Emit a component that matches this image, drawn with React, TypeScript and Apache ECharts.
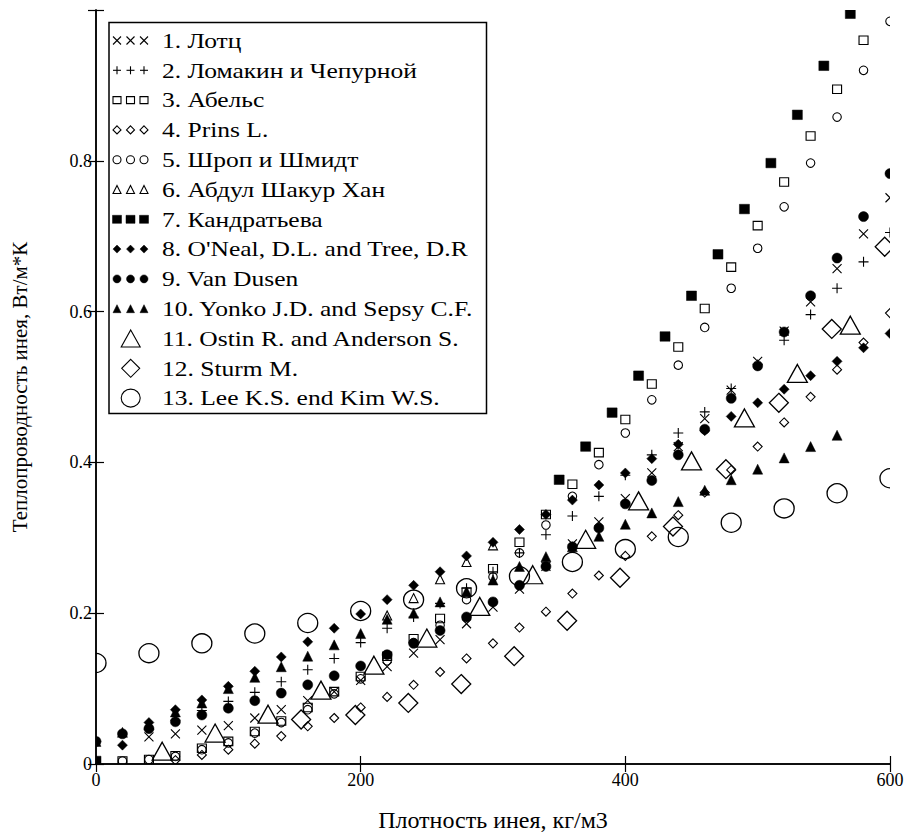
import React, { useEffect, useRef } from 'react';
import * as echarts from 'echarts';

const FONT = '"Liberation Serif", "Times New Roman", serif';

// ---- data (x: плотность, y: теплопроводность) ----
const lotzX = [40, 60, 80, 100, 120, 140, 160, 180, 200, 220, 240, 260, 280, 300, 320, 340, 360, 380, 400, 420, 440, 460, 480, 500, 520, 540, 560, 580, 600];
const lotzY = [0.036, 0.040, 0.045, 0.051, 0.061, 0.072, 0.084, 0.096, 0.111, 0.129, 0.147, 0.165, 0.186, 0.208, 0.232, 0.262, 0.292, 0.321, 0.352, 0.386, 0.421, 0.458, 0.496, 0.534, 0.574, 0.613, 0.657, 0.703, 0.751];

const lomX = [40, 60, 80, 100, 120, 140, 160, 180, 200, 220, 240, 260, 280, 300, 320, 340, 360, 380, 400, 420, 440, 460, 480, 500, 520, 540, 560, 580, 600];
const lomY = [0.047, 0.058, 0.071, 0.083, 0.095, 0.109, 0.125, 0.140, 0.161, 0.180, 0.195, 0.213, 0.233, 0.255, 0.280, 0.304, 0.329, 0.355, 0.383, 0.410, 0.439, 0.467, 0.498, 0.530, 0.562, 0.596, 0.631, 0.666, 0.705];

const abelsX = [20, 40, 60, 80, 100, 120, 140, 160, 180, 200, 220, 240, 260, 280, 300, 320, 340, 360, 380, 400, 420, 440, 460, 480, 500, 520, 540, 560, 580];
const abelsY = [0.004, 0.006, 0.011, 0.021, 0.030, 0.043, 0.057, 0.075, 0.096, 0.116, 0.143, 0.166, 0.193, 0.228, 0.259, 0.294, 0.331, 0.371, 0.413, 0.457, 0.504, 0.553, 0.604, 0.659, 0.714, 0.772, 0.833, 0.895, 0.960];

const prinsX = [60, 80, 100, 120, 140, 160, 180, 200, 220, 240, 260, 280, 300, 320, 340, 360, 380, 400, 420, 440, 460, 480, 500, 520, 540, 560, 580, 600];
const prinsY = [0.005, 0.012, 0.019, 0.027, 0.037, 0.050, 0.061, 0.075, 0.089, 0.105, 0.122, 0.140, 0.160, 0.181, 0.202, 0.226, 0.250, 0.276, 0.302, 0.330, 0.360, 0.390, 0.421, 0.453, 0.487, 0.523, 0.559, 0.598];

const shropX = [20, 40, 60, 80, 100, 120, 140, 160, 180, 200, 220, 240, 260, 280, 300, 320, 340, 360, 380, 400, 420, 440, 460, 480, 500, 520, 540, 560, 580, 600];
const shropY = [0.004, 0.006, 0.010, 0.019, 0.028, 0.041, 0.055, 0.072, 0.093, 0.113, 0.137, 0.161, 0.184, 0.218, 0.248, 0.280, 0.317, 0.355, 0.397, 0.439, 0.483, 0.529, 0.579, 0.631, 0.684, 0.739, 0.797, 0.858, 0.920, 0.985];

const abdulX = [220, 240, 260, 280, 300];
const abdulY = [0.197, 0.220, 0.245, 0.268, 0.290];

const kandX = [0, 350, 370, 390, 410, 430, 450, 470, 490, 510, 530, 550, 570];
const kandY = [0.004, 0.377, 0.421, 0.466, 0.515, 0.567, 0.621, 0.676, 0.736, 0.797, 0.861, 0.926, 0.995];

const onealX = [0, 20, 40, 60, 80, 100, 120, 140, 160, 180, 200, 220, 240, 260, 280, 300, 320, 340, 360, 380, 400, 420, 440, 460, 480, 500, 520, 540, 560, 580, 600];
const onealY = [0.030, 0.025, 0.055, 0.072, 0.085, 0.103, 0.123, 0.142, 0.162, 0.180, 0.199, 0.218, 0.237, 0.255, 0.276, 0.294, 0.311, 0.331, 0.350, 0.370, 0.386, 0.405, 0.424, 0.442, 0.461, 0.479, 0.497, 0.515, 0.534, 0.552, 0.571];

const vandX = [0, 20, 40, 60, 80, 100, 120, 140, 160, 180, 200, 220, 240, 260, 280, 300, 320, 340, 360, 380, 400, 420, 440, 460, 480, 500, 520, 540, 560, 580, 600];
const vandY = [0.030, 0.040, 0.047, 0.056, 0.065, 0.074, 0.084, 0.094, 0.105, 0.117, 0.130, 0.145, 0.160, 0.177, 0.195, 0.215, 0.237, 0.262, 0.288, 0.313, 0.345, 0.376, 0.410, 0.444, 0.485, 0.528, 0.573, 0.621, 0.671, 0.726, 0.783];

const yonkoX = [0, 20, 40, 60, 80, 100, 120, 140, 160, 180, 200, 220, 240, 260, 280, 300, 320, 340, 360, 380, 400, 420, 440, 460, 480, 500, 520, 540, 560];
const yonkoY = [0.030, 0.042, 0.052, 0.069, 0.081, 0.100, 0.115, 0.129, 0.143, 0.158, 0.173, 0.192, 0.200, 0.215, 0.229, 0.244, 0.262, 0.275, 0.288, 0.302, 0.318, 0.333, 0.348, 0.363, 0.377, 0.391, 0.406, 0.421, 0.436];

const ostinX = [50, 90, 130, 170, 210, 250, 290, 330, 370, 410, 450, 490, 530, 570];
const ostinY = [0.017, 0.041, 0.066, 0.098, 0.131, 0.167, 0.209, 0.251, 0.298, 0.349, 0.402, 0.459, 0.518, 0.582];

const sturmX = [155, 196, 236, 276, 316, 356, 396, 436, 476, 516, 556, 596];
const sturmY = [0.059, 0.065, 0.081, 0.106, 0.143, 0.190, 0.247, 0.315, 0.391, 0.479, 0.577, 0.686];

const leeX = [0, 40, 80, 120, 160, 200, 240, 280, 320, 360, 400, 440, 480, 520, 560, 600];
const leeY = [0.134, 0.147, 0.160, 0.173, 0.187, 0.203, 0.218, 0.233, 0.249, 0.268, 0.285, 0.301, 0.320, 0.339, 0.359, 0.379];

const xTicks = [0, 200, 400, 600];
const yTicks = [0, 0.2, 0.4, 0.6, 0.8];

const names = [
  '1. Лотц',
  '2. Ломакин и Чепурной',
  '3. Абельс',
  '4. Prins L.',
  '5. Шроп и Шмидт',
  '6. Абдул Шакур Хан',
  '7. Кандратьева',
  "8. O'Neal, D.L. and Tree, D.R",
  '9. Van Dusen',
  '10. Yonko J.D. and Sepsy C.F.',
  '11. Ostin R. and Anderson S.',
  '12. Sturm M.',
  '13. Lee K.S. end Kim W.S.',
];

const CROSS = 'path://M0,0L10,10M10,0L0,10';
const PLUS = 'path://M5,0L5,10M0,5L10,5';

type Kind = 'cross' | 'plus' | 'rect' | 'diamond' | 'circle' | 'triangle';
interface Spec { xs: number[]; ys: number[]; kind: Kind; filled: boolean; size: number[]; large: boolean; }

const specs: Spec[] = [
  { xs: lotzX, ys: lotzY, kind: 'cross', filled: false, size: [9, 9], large: false },
  { xs: lomX, ys: lomY, kind: 'plus', filled: false, size: [10, 10], large: false },
  { xs: abelsX, ys: abelsY, kind: 'rect', filled: false, size: [9, 8.5], large: false },
  { xs: prinsX, ys: prinsY, kind: 'diamond', filled: false, size: [9, 9], large: false },
  { xs: shropX, ys: shropY, kind: 'circle', filled: false, size: [8.5, 8.5], large: false },
  { xs: abdulX, ys: abdulY, kind: 'triangle', filled: false, size: [9, 9], large: false },
  { xs: kandX, ys: kandY, kind: 'rect', filled: true, size: [10, 9.5], large: false },
  { xs: onealX, ys: onealY, kind: 'diamond', filled: true, size: [10, 10], large: false },
  { xs: vandX, ys: vandY, kind: 'circle', filled: true, size: [10, 10], large: false },
  { xs: yonkoX, ys: yonkoY, kind: 'triangle', filled: true, size: [10, 10], large: false },
  { xs: ostinX, ys: ostinY, kind: 'triangle', filled: false, size: [20, 18], large: true },
  { xs: sturmX, ys: sturmY, kind: 'diamond', filled: false, size: [19, 19], large: true },
  { xs: leeX, ys: leeY, kind: 'circle', filled: false, size: [20, 19], large: true },
];

function symbolOf(kind: Kind): string {
  if (kind === 'cross') return CROSS;
  if (kind === 'plus') return PLUS;
  return kind;
}

function glyph(kind: Kind, cx: number, cy: number, w: number, h: number, filled: boolean): any[] {
  const style = { fill: filled ? '#000' : 'none', stroke: '#000', lineWidth: filled ? 0.5 : 1.1 };
  const z = 21;
  const z2 = 2;
  const hw = w / 2, hh = h / 2;
  if (kind === 'cross') {
    return [
      { type: 'line', z, z2, shape: { x1: cx - hw, y1: cy - hh, x2: cx + hw, y2: cy + hh }, style: { stroke: '#000', lineWidth: 1.1 } },
      { type: 'line', z, z2, shape: { x1: cx + hw, y1: cy - hh, x2: cx - hw, y2: cy + hh }, style: { stroke: '#000', lineWidth: 1.1 } },
    ];
  }
  if (kind === 'plus') {
    return [
      { type: 'line', z, z2, shape: { x1: cx, y1: cy - hh, x2: cx, y2: cy + hh }, style: { stroke: '#000', lineWidth: 1.1 } },
      { type: 'line', z, z2, shape: { x1: cx - hw, y1: cy, x2: cx + hw, y2: cy }, style: { stroke: '#000', lineWidth: 1.1 } },
    ];
  }
  if (kind === 'rect') return [{ type: 'rect', z, z2, shape: { x: cx - hw, y: cy - hh, width: w, height: h }, style }];
  if (kind === 'circle') return [{ type: 'ellipse', z, z2, shape: { cx, cy, rx: hw, ry: hh }, style }];
  if (kind === 'diamond') return [{ type: 'polygon', z, z2, shape: { points: [[cx, cy - hh], [cx + hw, cy], [cx, cy + hh], [cx - hw, cy]] }, style }];
  return [{ type: 'polygon', z, z2, shape: { points: [[cx, cy - hh], [cx + hw, cy + hh], [cx - hw, cy + hh]] }, style }];
}

export default function App() {
  const ref = useRef<HTMLDivElement>(null);

  useEffect(() => {
    if (!ref.current) return;
    const chart = echarts.init(ref.current, undefined, { renderer: 'svg' });

    const series = specs.map((s, i) => ({
      type: 'scatter',
      name: names[i],
      data: s.xs.map((x, j) => [x, s.ys[j]]),
      symbol: symbolOf(s.kind),
      symbolSize: s.size,
      symbolKeepAspect: false,
      clip: false,
      silent: true,
      z: 2,
      itemStyle: s.filled
        ? { color: '#000', borderColor: '#000', borderWidth: 0.5, opacity: 1 }
        : { color: 'transparent', borderColor: '#000', borderWidth: s.large ? 1.3 : 1.1, opacity: 1 },
    }));

    // legend (drawn as graphics)
    const legendEls: any[] = [
      { type: 'rect', z: 20, z2: 0, shape: { x: 109, y: 22.5, width: 377.5, height: 391 }, style: { fill: '#fff', stroke: '#000', lineWidth: 1.5 } },
    ];
    specs.forEach((s, i) => {
      const cy = 40.5 + i * 29.8;
      if (s.large) {
        legendEls.push(...glyph(s.kind, 130.7, cy, s.size[0] - 1, s.size[1] - 1, s.filled));
      } else {
        [117, 130.5, 144].forEach((cx) => {
          const sz = s.kind === 'rect' && s.filled ? 9 : 8;
          legendEls.push(...glyph(s.kind, cx, cy, sz, s.kind === 'rect' ? sz - 1 : sz, s.filled));
        });
      }
      legendEls.push({
        type: 'text', z: 21, z2: 2, x: 162, y: cy, scaleX: 1.16, scaleY: 1,
        style: { text: names[i], fill: '#000', font: `22px ${FONT}`, verticalAlign: 'middle', align: 'left' },
      });
    });

    // masks outside the plot area (so markers are clipped at the frame like the original)
    const maskStyle = { fill: '#fff' };
    const masks = [
      { type: 'rect', z: 5, z2: 0, shape: { x: 0, y: 0, width: 96, height: 837 }, style: maskStyle, silent: true },
      { type: 'rect', z: 5, z2: 0, shape: { x: 890, y: 0, width: 20, height: 837 }, style: maskStyle, silent: true },
      { type: 'rect', z: 5, z2: 0, shape: { x: 0, y: 764, width: 910, height: 73 }, style: maskStyle, silent: true },
      { type: 'rect', z: 5, z2: 0, shape: { x: 0, y: 0, width: 910, height: 10 }, style: maskStyle, silent: true },
    ];

    const axisLine = { show: true, lineStyle: { color: '#000', width: 1.5 } };
    const tick = { show: true, inside: true, length: 8, lineStyle: { color: '#000', width: 1.2 } };
    const labelStyle = { color: '#000', fontFamily: FONT, fontSize: 18 };

    chart.setOption({
      animation: false,
      backgroundColor: '#fff',
      grid: { left: 96, top: 10, right: 20, bottom: 73, containLabel: false },
      xAxis: [
        {
          type: 'value', min: 0, max: 600, interval: 200, position: 'bottom', z: 10,
          axisLine, axisTick: tick, splitLine: { show: false },
          axisLabel: { ...labelStyle, margin: 7, customValues: xTicks, formatter: (v: number) => String(v) },
          name: 'Плотность инея, кг/м3', nameLocation: 'middle', nameGap: 44,
          nameTextStyle: { color: '#000', fontFamily: FONT, fontSize: 24 },
        },
        {
          type: 'value', min: 0, max: 600, interval: 200, position: 'top', z: 10,
          axisLine, axisTick: tick, axisLabel: { show: false }, splitLine: { show: false },
        },
      ],
      yAxis: [
        {
          type: 'value', min: 0, max: 1, interval: 0.2, position: 'left', z: 10,
          axisLine, axisTick: tick, splitLine: { show: false },
          axisLabel: {
            ...labelStyle, margin: 4,
            formatter: (v: number) => (yTicks.some((t) => Math.abs(t - v) < 1e-9) ? String(+v.toFixed(1)) : ''),
          },
          name: 'Теплопроводность инея, Вт/м*К', nameLocation: 'middle', nameGap: 66, nameRotate: 90,
          nameTextStyle: { color: '#000', fontFamily: FONT, fontSize: 21 },
        },
        {
          type: 'value', min: 0, max: 1, interval: 0.2, position: 'right', z: 10,
          axisLine, axisTick: tick, axisLabel: { show: false }, splitLine: { show: false },
        },
      ],
      series,
      graphic: { z: 5, elements: [...masks, ...legendEls] },
    });

    return () => chart.dispose();
  }, []);

  return (
    <div
      ref={ref}
      style={{ position: 'absolute', left: 0, top: 0, width: 910, height: 837, background: '#fff' }}
    />
  );
}
